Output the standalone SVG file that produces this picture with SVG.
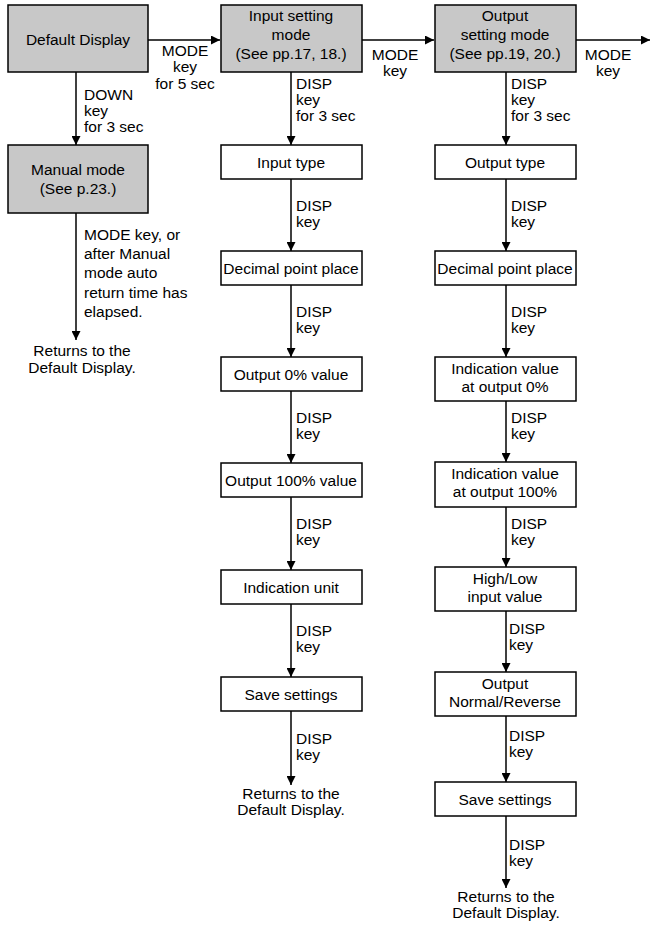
<svg xmlns="http://www.w3.org/2000/svg" width="656" height="936" viewBox="0 0 656 936">
<style>
text{font-family:"Liberation Sans",Arial,sans-serif;font-size:15.5px;fill:#000}
.c{text-anchor:middle}
.g{fill:#c8c8c8;stroke:#000;stroke-width:1.5}
.w{fill:#fff;stroke:#000;stroke-width:1.5}
.l{stroke:#000;stroke-width:1.5;fill:none;marker-end:url(#a)}
</style>
<defs><marker id="a" viewBox="0 0 10 10" refX="10" refY="5" markerWidth="9" markerHeight="9" markerUnits="userSpaceOnUse" orient="auto"><path d="M0,0L10,5L0,10z" fill="#000"/></marker></defs>
<rect width="656" height="936" fill="#fff"/>
<g id="connectors">
<path class="l" d="M148,40H220"/><path class="l" d="M362,40H434"/><path class="l" d="M576,40H650"/>
<path class="l" d="M76,72V145"/><path class="l" d="M76,213V340"/>
<path class="l" d="M291,72V145"/><path class="l" d="M291,179V251"/><path class="l" d="M291,285V357"/><path class="l" d="M291,391V463"/><path class="l" d="M291,497V570"/><path class="l" d="M291,604V677"/><path class="l" d="M291,711V785"/>
<path class="l" d="M506,72V145"/><path class="l" d="M506,179V251"/><path class="l" d="M506,285V357"/><path class="l" d="M506,401V462"/><path class="l" d="M506,507V567"/><path class="l" d="M506,611V672"/><path class="l" d="M506,716V782"/><path class="l" d="M506,816V888"/>
<text class="c" x="185" y="56">MODE</text><text class="c" x="185" y="72">key</text><text class="c" x="185" y="89">for 5 sec</text>
<text class="c" x="395" y="60">MODE</text><text class="c" x="395" y="76">key</text>
<text class="c" x="608" y="60">MODE</text><text class="c" x="608" y="76">key</text>
<text x="84" y="100">DOWN</text><text x="84" y="116">key</text><text x="84" y="132">for 3 sec</text>
<text x="84" y="240">MODE key, or</text><text x="84" y="259">after Manual</text><text x="84" y="278">mode auto</text><text x="84" y="298">return time has</text><text x="84" y="317">elapsed.</text>
<text class="c" x="82" y="356">Returns to the</text><text class="c" x="82" y="373">Default Display.</text>
<text x="296" y="89">DISP</text><text x="296" y="105">key</text><text x="296" y="121">for 3 sec</text>
<text x="511" y="89">DISP</text><text x="511" y="105">key</text><text x="511" y="121">for 3 sec</text>
<text x="296" y="211">DISP</text><text x="296" y="227">key</text>
<text x="296" y="317">DISP</text><text x="296" y="333">key</text>
<text x="296" y="423">DISP</text><text x="296" y="439">key</text>
<text x="296" y="529">DISP</text><text x="296" y="545">key</text>
<text x="296" y="636">DISP</text><text x="296" y="652">key</text>
<text x="296" y="744">DISP</text><text x="296" y="760">key</text>
<text class="c" x="291" y="799">Returns to the</text><text class="c" x="291" y="815">Default Display.</text>
<text x="511" y="211">DISP</text><text x="511" y="227">key</text>
<text x="511" y="317">DISP</text><text x="511" y="333">key</text>
<text x="511" y="423">DISP</text><text x="511" y="439">key</text>
<text x="511" y="529">DISP</text><text x="511" y="545">key</text>
<text x="509" y="634">DISP</text><text x="509" y="650">key</text>
<text x="509" y="741">DISP</text><text x="509" y="757">key</text>
<text x="509" y="850">DISP</text><text x="509" y="866">key</text>
<text class="c" x="506" y="902">Returns to the</text><text class="c" x="506" y="918">Default Display.</text>
</g>
<g id="default"><rect class="g" x="8" y="5" width="140" height="67"/><text class="c" x="78" y="45">Default Display</text></g>
<g id="manual"><rect class="g" x="8" y="145" width="140" height="68"/><text class="c" x="78" y="175">Manual mode</text><text class="c" x="78" y="194">(See p.23.)</text></g>
<g id="input-mode"><rect class="g" x="221" y="5" width="141" height="67"/><text class="c" x="291" y="21">Input setting</text><text class="c" x="291" y="40">mode</text><text class="c" x="291" y="59">(See pp.17, 18.)</text></g>
<g id="output-mode"><rect class="g" x="435" y="5" width="141" height="67"/><text class="c" x="505" y="21">Output</text><text class="c" x="505" y="40">setting mode</text><text class="c" x="505" y="59">(See pp.19, 20.)</text></g>
<g id="in1"><rect class="w" x="221" y="145" width="141" height="34"/><text class="c" x="291" y="168">Input type</text></g>
<g id="in2"><rect class="w" x="221" y="251" width="141" height="34"/><text class="c" x="291" y="274">Decimal point place</text></g>
<g id="in3"><rect class="w" x="221" y="357" width="141" height="34"/><text class="c" x="291" y="380">Output 0% value</text></g>
<g id="in4"><rect class="w" x="221" y="463" width="141" height="34"/><text class="c" x="291" y="486">Output 100% value</text></g>
<g id="in5"><rect class="w" x="221" y="570" width="141" height="34"/><text class="c" x="291" y="593">Indication unit</text></g>
<g id="in6"><rect class="w" x="221" y="677" width="141" height="34"/><text class="c" x="291" y="700">Save settings</text></g>
<g id="out1"><rect class="w" x="435" y="145" width="141" height="34"/><text class="c" x="505" y="168">Output type</text></g>
<g id="out2"><rect class="w" x="435" y="251" width="141" height="34"/><text class="c" x="505" y="274">Decimal point place</text></g>
<g id="out3"><rect class="w" x="435" y="357" width="141" height="44"/><text class="c" x="505" y="374">Indication value</text><text class="c" x="505" y="392">at output 0%</text></g>
<g id="out4"><rect class="w" x="435" y="462" width="141" height="45"/><text class="c" x="505" y="479">Indication value</text><text class="c" x="505" y="497">at output 100%</text></g>
<g id="out5"><rect class="w" x="435" y="567" width="141" height="44"/><text class="c" x="505" y="584">High/Low</text><text class="c" x="505" y="602">input value</text></g>
<g id="out6"><rect class="w" x="435" y="672" width="141" height="44"/><text class="c" x="505" y="689">Output</text><text class="c" x="505" y="707">Normal/Reverse</text></g>
<g id="out7"><rect class="w" x="435" y="782" width="141" height="34"/><text class="c" x="505" y="805">Save settings</text></g>
</svg>
